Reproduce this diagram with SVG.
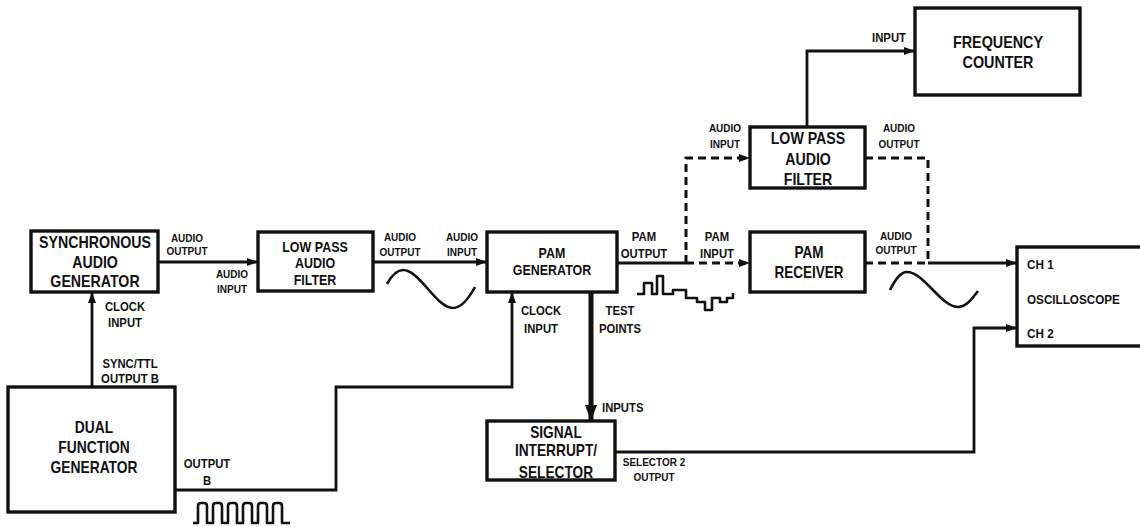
<svg xmlns="http://www.w3.org/2000/svg" width="1140" height="527" viewBox="0 0 1140 527">
<style>
.box{fill:#fff;stroke:#111;stroke-width:3.4}
.ln{fill:none;stroke:#111;stroke-width:2.8}
.dash{fill:none;stroke:#111;stroke-width:3;stroke-dasharray:8 5}
.wave{fill:none;stroke:#111;stroke-width:2.6;stroke-linejoin:round}
text{font-family:"Liberation Sans",Arial,sans-serif;font-weight:bold;fill:#111;text-anchor:middle}
.big{font-size:16.5px}
.mid{font-size:14.5px}
.sm{font-size:13px}
.xs{font-size:11.5px}
.st{text-anchor:start}
</style>
<defs>
<marker id="arr" markerUnits="userSpaceOnUse" markerWidth="11" markerHeight="8" refX="11" refY="4" orient="auto">
<path d="M0,0 L11,4 L0,8 z" fill="#111"/>
</marker>
<marker id="arrBig" markerUnits="userSpaceOnUse" markerWidth="16" markerHeight="12" refX="16" refY="6" orient="auto">
<path d="M0,0 L16,6 L0,12 z" fill="#111"/>
</marker>
</defs>
<rect width="1140" height="527" fill="#fff"/>

<g id="connectors">
<path class="ln" d="M158,262 H258" marker-end="url(#arr)"/>
<path class="ln" d="M373,262 H487" marker-end="url(#arr)"/>
<path class="ln" d="M92,387 V292" marker-end="url(#arr)"/>
<path class="ln" d="M175,490 H336 V387 H512 V292" marker-end="url(#arr)"/>
<path class="ln" style="stroke-width:5" d="M591,292 V421" marker-end="url(#arrBig)"/>
<path class="ln" d="M617,263 H686"/>
<path class="dash" d="M686,263 H750" marker-end="url(#arr)"/>
<path class="dash" d="M686,263 V158 H750" marker-end="url(#arr)"/>
<path class="dash" d="M865,158 H928 V263"/>
<path class="dash" d="M865,263 H928"/>
<path class="ln" d="M928,263 H1017" marker-end="url(#arr)"/>
<path class="ln" d="M807,127 V51 H915" marker-end="url(#arr)"/>
<path class="ln" d="M615,452 H974 V328 H1017" marker-end="url(#arr)"/>
</g>

<g id="waveforms">
<path class="wave" d="M387,284 C392,275 397,270 403,270 C420,270 436,308 453,308 C462,308 469,298 475,287"/>
<path class="wave" d="M890,290 C895,280 900,272 907,272 C924,272 941,307 958,307 C966,307 972,299 978,291"/>
<path class="wave" d="M637,294 H644 V283 H652 V294 H657 V276 H663 V294 H673 V290 H686 V298 H697 V302 H705 V310 H712 V298 H720 V302 H727 V298 H733 V293"/>
<path class="wave" d="M193,523 H198 V506 Q198,503 201,503 H204 Q207,503 207,506 V523 H213 V506 Q213,503 216,503 H219 Q222,503 222,506 V523 H228 V506 Q228,503 231,503 H234 Q237,503 237,506 V523 H243 V506 Q243,503 246,503 H249 Q252,503 252,506 V523 H258 V506 Q258,503 261,503 H264 Q267,503 267,506 V523 H273 V506 Q273,503 276,503 H279 Q282,503 282,506 V523 H290"/>
</g>

<g id="sync-audio-gen">
<rect class="box" x="31" y="231" width="127" height="61"/>
<text class="big" transform="translate(95,248) scale(0.86,1)"><tspan x="0" y="0">SYNCHRONOUS</tspan><tspan x="0" y="20">AUDIO</tspan><tspan x="0" y="39">GENERATOR</tspan></text>
</g>

<g id="dual-function-gen">
<rect class="box" x="8" y="387" width="167" height="125"/>
<text class="big" transform="translate(94,433) scale(0.84,1)"><tspan x="0" y="0">DUAL</tspan><tspan x="0" y="20">FUNCTION</tspan><tspan x="0" y="40">GENERATOR</tspan></text>
</g>

<g id="lpf1">
<rect class="box" x="258" y="232" width="115" height="59"/>
<text class="mid" transform="translate(315,252) scale(0.86,1)"><tspan x="0" y="0">LOW PASS</tspan><tspan x="0" y="16">AUDIO</tspan><tspan x="0" y="33">FILTER</tspan></text>
</g>

<g id="pam-gen">
<rect class="box" x="487" y="232" width="130" height="60"/>
<text class="mid" transform="translate(552,258) scale(0.86,1)"><tspan x="0" y="0">PAM</tspan><tspan x="0" y="17">GENERATOR</tspan></text>
</g>

<g id="signal-interrupt">
<rect class="box" x="487" y="421" width="128" height="59"/>
<text class="big" transform="translate(556,438) scale(0.83,1)"><tspan x="0" y="0">SIGNAL</tspan><tspan x="0" y="18">INTERRUPT/</tspan><tspan x="0" y="40">SELECTOR</tspan></text>
</g>

<g id="lpf2">
<rect class="box" x="750" y="127" width="115" height="61"/>
<text class="big" transform="translate(808,144) scale(0.86,1)"><tspan x="0" y="0">LOW PASS</tspan><tspan x="0" y="21">AUDIO</tspan><tspan x="0" y="41">FILTER</tspan></text>
</g>

<g id="pam-receiver">
<rect class="box" x="750" y="232" width="115" height="60"/>
<text class="big" transform="translate(809,258) scale(0.82,1)"><tspan x="0" y="0">PAM</tspan><tspan x="0" y="20">RECEIVER</tspan></text>
</g>

<g id="freq-counter">
<rect class="box" x="915" y="8" width="165" height="87"/>
<text class="big" transform="translate(998,48) scale(0.87,1)"><tspan x="0" y="0">FREQUENCY</tspan><tspan x="0" y="20">COUNTER</tspan></text>
</g>

<g id="oscilloscope">
<rect class="box" x="1017" y="247" width="140" height="99"/>
<text class="sm st" transform="translate(1027,269) scale(0.9,1)"><tspan x="0" y="0">CH 1</tspan><tspan x="0" y="35">OSCILLOSCOPE</tspan><tspan x="0" y="69">CH 2</tspan></text>
</g>

<g id="labels">
<text class="xs" transform="translate(187,242) scale(0.87,1)"><tspan x="0" y="0">AUDIO</tspan><tspan x="0" y="13">OUTPUT</tspan></text>
<text class="xs" transform="translate(232,278) scale(0.87,1)"><tspan x="0" y="0">AUDIO</tspan><tspan x="0" y="15">INPUT</tspan></text>
<text class="xs" transform="translate(400,241) scale(0.87,1)"><tspan x="0" y="0">AUDIO</tspan><tspan x="0" y="15">OUTPUT</tspan></text>
<text class="xs" transform="translate(462,241) scale(0.87,1)"><tspan x="0" y="0">AUDIO</tspan><tspan x="0" y="15">INPUT</tspan></text>
<text class="sm" transform="translate(644,241) scale(0.87,1)"><tspan x="0" y="0">PAM</tspan><tspan x="0" y="17">OUTPUT</tspan></text>
<text class="sm" transform="translate(717,241) scale(0.87,1)"><tspan x="0" y="0">PAM</tspan><tspan x="0" y="17">INPUT</tspan></text>
<text class="sm" transform="translate(125,311) scale(0.87,1)"><tspan x="0" y="0">CLOCK</tspan><tspan x="0" y="16">INPUT</tspan></text>
<text class="sm" transform="translate(130,368) scale(0.87,1)"><tspan x="0" y="0">SYNC/TTL</tspan><tspan x="0" y="15">OUTPUT B</tspan></text>
<text class="sm" transform="translate(207,468) scale(0.87,1)"><tspan x="0" y="0">OUTPUT</tspan><tspan x="0" y="17">B</tspan></text>
<text class="sm" transform="translate(541,315) scale(0.87,1)"><tspan x="0" y="0">CLOCK</tspan><tspan x="0" y="18">INPUT</tspan></text>
<text class="sm" transform="translate(620,315) scale(0.87,1)"><tspan x="0" y="0">TEST</tspan><tspan x="0" y="18">POINTS</tspan></text>
<text class="sm st" transform="translate(602,412) scale(0.87,1)">INPUTS</text>
<text class="xs" transform="translate(654,466) scale(0.87,1)"><tspan x="0" y="0">SELECTOR 2</tspan><tspan x="0" y="15">OUTPUT</tspan></text>
<text class="xs" transform="translate(725,132) scale(0.87,1)"><tspan x="0" y="0">AUDIO</tspan><tspan x="0" y="16">INPUT</tspan></text>
<text class="xs" transform="translate(899,132) scale(0.87,1)"><tspan x="0" y="0">AUDIO</tspan><tspan x="0" y="16">OUTPUT</tspan></text>
<text class="sm" transform="translate(889,42) scale(0.87,1)">INPUT</text>
<text class="xs" transform="translate(896,240) scale(0.87,1)"><tspan x="0" y="0">AUDIO</tspan><tspan x="0" y="14">OUTPUT</tspan></text>
</g>
</svg>
